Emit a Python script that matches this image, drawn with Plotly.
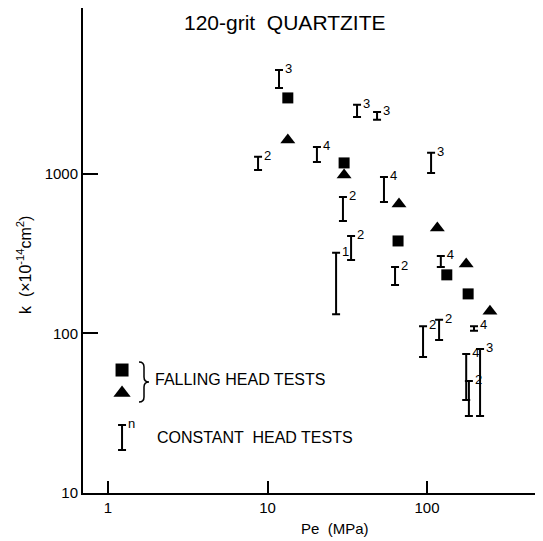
import plotly.graph_objects as go
import math

# ---------------- data ----------------
# Falling head tests (squares / triangles)
sq_pe = [13.4, 30.2, 65.8, 133, 181]
sq_k = [2995, 1172, 380, 233, 177]
tri_pe = [13.4, 30.2, 66.7, 116, 176, 248]
tri_k = [1634, 985, 649, 458, 273, 138]

# Constant head tests (range bars, label n)
ch_pe = [11.8, 8.72, 20.4, 36.4, 48.6, 106, 53.7, 29.7, 33.4, 26.9, 63.0, 122, 94.4, 119, 197, 176, 215, 183]
ch_lo = [3461, 1059, 1189, 2277, 2183, 1014, 667, 507, 289, 132, 201, 261, 71.3, 91, 104, 38.3, 30.4, 30.4]
ch_hi = [4487, 1279, 1476, 2711, 2448, 1355, 957, 717, 408, 320, 261, 306, 111, 122, 111, 74.3, 80, 50.4]
ch_n = ["3", "2", "4", "3", "3", "3", "4", "2", "2", "1", "2", "4", "2", "2", "4", "4", "3", "2"]

x_ticks = [1, 10, 100]
x_ticktext = ["1", "10", "100"]
y_ticks = [10, 100, 1000]
y_ticktext = ["10", "100", "1000"]

# legend glyph positions (data units)
leg_pe = 1.224
leg_sq_k = 59
leg_tri_k = 42.4
leg_bar_lo = 18.6
leg_bar_hi = 26.7

# axis ranges (log10 units)
x_range = [-0.157, 2.727]
y_range = [1.0, 4.04]

# ---------------- layout geometry ----------------
OFF = 8  # page body margin of the browser
W, H = 543 - OFF, 541 - OFF
L, R, T, B = 75, 0, 0, 48
PW, PH = W - L - R, H - T - B


def px(x):  # screen pixel -> paper
    return (x - OFF - L) / PW


def py(y):
    return (H - B - (y - OFF)) / PH


FONT = "Liberation Sans, Arial, sans-serif"

fig = go.Figure()

# constant head bars
ch_mid = [math.sqrt(a * b) for a, b in zip(ch_lo, ch_hi)]
fig.add_trace(go.Scatter(
    x=ch_pe, y=ch_mid, mode="markers",
    marker=dict(size=1, color="rgba(0,0,0,0)"),
    error_y=dict(type="data", symmetric=False,
                 array=[h - m for h, m in zip(ch_hi, ch_mid)],
                 arrayminus=[m - l for m, l in zip(ch_mid, ch_lo)],
                 width=4, thickness=2, color="black"),
    showlegend=False, hoverinfo="skip"))
fig.add_trace(go.Scatter(
    x=ch_pe, y=ch_hi, mode="markers+text", text=ch_n, textposition="middle right",
    marker=dict(size=8, color="rgba(0,0,0,0)"),
    textfont=dict(family=FONT, size=13, color="black"),
    showlegend=False, hoverinfo="skip"))

# falling head markers
fig.add_trace(go.Scatter(x=sq_pe, y=sq_k, mode="markers",
                         marker=dict(symbol="square", size=11, color="black"),
                         showlegend=False))
fig.add_trace(go.Scatter(x=tri_pe, y=tri_k, mode="markers",
                         marker=dict(symbol="triangle-up", size=13, color="black"),
                         showlegend=False))

# legend glyphs
fig.add_trace(go.Scatter(x=[leg_pe], y=[leg_sq_k], mode="markers",
                         marker=dict(symbol="square", size=13, color="black"),
                         showlegend=False, hoverinfo="skip"))
fig.add_trace(go.Scatter(x=[leg_pe], y=[leg_tri_k], mode="markers",
                         marker=dict(symbol="triangle-up", size=15, color="black"),
                         showlegend=False, hoverinfo="skip"))
lm = math.sqrt(leg_bar_lo * leg_bar_hi)
fig.add_trace(go.Scatter(
    x=[leg_pe], y=[lm], mode="markers",
    marker=dict(size=1, color="rgba(0,0,0,0)"),
    error_y=dict(type="data", symmetric=False, array=[leg_bar_hi - lm],
                 arrayminus=[lm - leg_bar_lo], width=4, thickness=2, color="black"),
    showlegend=False, hoverinfo="skip"))
fig.add_trace(go.Scatter(x=[leg_pe], y=[leg_bar_hi], mode="markers+text", text=["n"],
                         textposition="middle right",
                         marker=dict(size=8, color="rgba(0,0,0,0)"),
                         textfont=dict(family=FONT, size=13, color="black"),
                         showlegend=False, hoverinfo="skip"))

# brace
bx0, bx1, bx2 = px(139), px(144), px(149)
yt, ym, yb = py(362), py(382), py(402)
d = 5 / PH
path = (f"M {bx0},{yt} Q {bx1},{yt} {bx1},{yt - d} L {bx1},{ym + d} "
        f"Q {bx1},{ym} {bx2},{ym} Q {bx1},{ym} {bx1},{ym - d} "
        f"L {bx1},{yb + d} Q {bx1},{yb} {bx0},{yb}")
fig.add_shape(type="path", path=path, xref="paper", yref="paper",
              line=dict(color="black", width=1.5))

annots = [
    dict(x=px(285), y=py(22), text="120-grit  QUARTZITE", font=dict(size=21),
         xanchor="center", yanchor="middle"),
    dict(x=px(153), y=py(380), text="FALLING HEAD TESTS", font=dict(size=16),
         xanchor="left", yanchor="middle"),
    dict(x=px(155), y=py(437), text="CONSTANT  HEAD TESTS", font=dict(size=16),
         xanchor="left", yanchor="middle"),
    dict(x=px(335), y=py(528), text="Pe  (MPa)", font=dict(size=15),
         xanchor="center", yanchor="middle"),
    dict(x=px(24), y=py(265), text="k  (×10<sup>-14</sup>cm<sup>2</sup>)",
         font=dict(size=16), textangle=-90, xanchor="center", yanchor="middle"),
]
for a in annots:
    a.update(xref="paper", yref="paper", showarrow=False)
    a["font"].update(family=FONT, color="black")
    fig.add_annotation(**a)

fig.update_layout(
    width=W, height=H,
    margin=dict(l=L, r=R, t=T, b=B),
    paper_bgcolor="white", plot_bgcolor="white",
    font=dict(family=FONT, color="black"),
    showlegend=False,
    xaxis=dict(type="log", range=x_range, tickvals=x_ticks, ticktext=x_ticktext,
               ticks="inside", ticklen=12, tickwidth=1.5, tickcolor="black",
               showline=True, linecolor="black", linewidth=2, showgrid=False,
               zeroline=False, tickfont=dict(size=15)),
    yaxis=dict(type="log", range=y_range, tickvals=y_ticks, ticktext=y_ticktext,
               ticks="inside", ticklen=15, tickwidth=1.5, tickcolor="black",
               showline=True, linecolor="black", linewidth=2, showgrid=False,
               zeroline=False, tickfont=dict(size=15)),
)

fig.write_html("out.html")
